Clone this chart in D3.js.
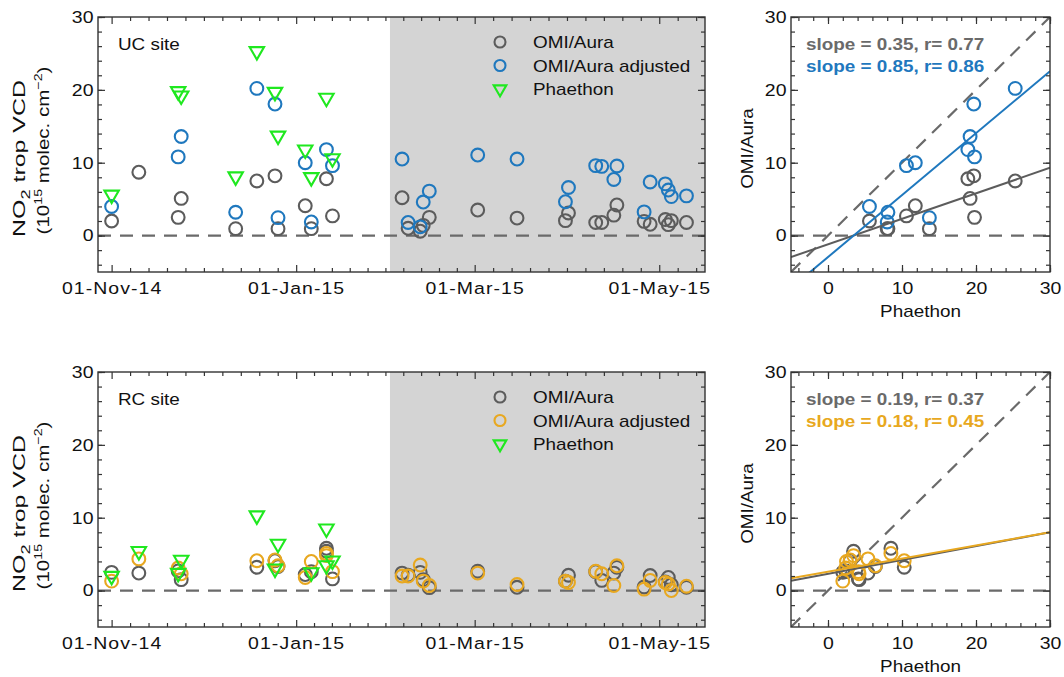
<!DOCTYPE html>
<html><head><meta charset="utf-8">
<script src="https://cdn.jsdelivr.net/npm/d3@7"></script>
<style>
body{margin:0;background:#fff}
svg{display:block}
text{font-family:"Liberation Sans",Arial,Helvetica,sans-serif}
</style>
</head><body>
<svg id="c" width="1064" height="677"></svg>
<script>
// ---------------- DATA ----------------
const ucDates = ["2014-11-01","2014-11-10","2014-11-23","2014-11-24","2014-12-12","2014-12-19","2014-12-25","2014-12-26","2015-01-04","2015-01-06","2015-01-11","2015-01-13",
  "2015-02-05","2015-02-07","2015-02-11","2015-02-12","2015-02-14","2015-03-02","2015-03-15","2015-03-31","2015-04-01","2015-04-10","2015-04-12","2015-04-16","2015-04-17","2015-04-26","2015-04-28","2015-05-03","2015-05-04","2015-05-05","2015-05-10"];
const ucOmi = [2.0, 8.7, 2.5, 5.1, 0.95, 7.5, 8.2, 0.95, 4.1, 0.95, 7.8, 2.7,
  5.2, 1.0, 0.6, 1.4, 2.5, 3.5, 2.4, 2.05, 3.1, 1.8, 1.8, 2.8, 4.2, 1.95, 1.55, 2.2, 1.5, 2.05, 1.8];
const ucAdj = [4.0, null, 10.8, 13.6, 3.2, 20.2, 18.05, 2.46, 10.0, 1.87, 11.8, 9.6,
  10.5, 1.8, 1.2, 4.6, 6.1, 11.05, 10.5, 4.65, 6.6, 9.6, 9.5, 7.7, 9.55, 3.25, 7.35, 7.1, 6.25, 5.35, 5.45];
const ucPha = [5.6, null, 19.8, 19.2, 8.1, 25.3, 19.7, 13.7, 11.8, 8.0, 18.9, 10.6,
  null, null, null, null, null, null, null, null, null, null, null, null, null, null, null, null, null, null, null];

const rcDates = ["2014-11-01","2014-11-10","2014-11-23","2014-11-24","2014-12-19","2014-12-25","2014-12-26","2015-01-04","2015-01-06","2015-01-11","2015-01-11","2015-01-13",
  "2015-02-05","2015-02-07","2015-02-11","2015-02-12","2015-02-14","2015-03-02","2015-03-15","2015-03-31","2015-04-01","2015-04-10","2015-04-12","2015-04-16","2015-04-17","2015-04-26","2015-04-28","2015-05-03","2015-05-04","2015-05-05","2015-05-10"];
const rcOmi = [2.5, 2.4, 2.7, 1.5, 3.2, 4.1, 3.3, 2.2, 2.6, 5.8, 5.4, 1.6,
  2.4, 2.1, 2.5, 1.5, 0.4, 2.65, 0.45, 1.3, 2.1, 2.6, 1.4, 2.4, 3.2, 0.5, 2.06, 1.2, 1.8, 0.8, 0.45];
const rcAdj = [1.3, 4.35, 3.1, 2.3, 4.1, 4.2, 3.4, 1.8, 4.0, 5.1, 4.8, 2.6,
  2.0, 2.0, 3.5, 1.3, 0.7, 2.4, 0.83, 1.3, 1.1, 2.66, 2.3, 0.7, 3.4, 0.2, 1.4, 1.1, 0.9, 0.0, 0.6];
const rcPha = [2.0, 5.4, 2.4, 4.2, 10.3, 3.0, 6.4, null, 2.5, 8.5, 3.45, 4.1,
  null, null, null, null, null, null, null, null, null, null, null, null, null, null, null, null, null, null, null];

// regression fits: [OMI/Aura, OMI/Aura adjusted]
const ucSlope = [0.35, 0.85], ucIntercept = [-1.2, -2.95], ucR = [0.77, 0.86];
const rcSlope = [0.19, 0.18], rcIntercept = [2.3, 2.6], rcR = [0.37, 0.45];

const siteNames = ["UC site", "RC site"];
const legendLabels = ["OMI/Aura", "OMI/Aura adjusted", "Phaethon"];
const dateTicks = ["2014-11-01", "2015-01-01", "2015-03-01", "2015-05-01"];
const shadeStart = "2015-02-01";
const yTicks = [0, 10, 20, 30];
const sxTicks = [0, 10, 20, 30];

// ---------------- STYLE / LAYOUT ----------------
const GRAY = "#5c5c5c", BLUE = "#1f78be", ORANGE = "#e8a820", GREEN = "#1fe81f";
const SX = 1.18;        // horizontal text stretch
const LX0 = 98, LX1 = 705, RX0 = 791, RX1 = 1050;
const panels = [{top: 17, bottom: 272}, {top: 372, bottom: 627}];
const parse = d3.timeParse("%Y-%m-%d");
const xDomain = [new Date(2014, 9, 27, 12), new Date(2015, 4, 16, 3)];
const svg = d3.select("#c");

function label(g, x, y, s, o = {}) {
  const t = g.append("text")
    .attr("transform", `translate(${x},${y}) scale(${SX},1)`)
    .attr("text-anchor", o.anchor || "start")
    .attr("font-size", o.size || 16)
    .attr("fill", o.fill || "#111")
    .attr("font-weight", o.weight || "normal")
    .text(s);
  return t;
}
function circ(g, x, y, color, r = 6.4) {
  g.append("circle").attr("cx", x).attr("cy", y).attr("r", r)
    .attr("fill", "none").attr("stroke", color).attr("stroke-width", 2.1);
}
const triPath = d3.symbol(d3.symbolTriangle, 90)();
function tri(g, x, y, size) {
  g.append("path").attr("d", size ? d3.symbol(d3.symbolTriangle, size)() : triPath)
    .attr("transform", `translate(${x},${y}) rotate(180)`)
    .attr("fill", "none").attr("stroke", GREEN).attr("stroke-width", 2.1);
}
function styleAxis(sel) {
  sel.select(".domain").remove();
  sel.selectAll("line").attr("stroke", "#333").attr("stroke-width", 1.2);
  sel.attr("font-family", null).attr("font-size", 16.5);
  sel.selectAll("text").attr("fill", "#111").attr("font-size", 16.5)
    .attr("font-family", '"Liberation Sans",Arial,sans-serif');
}
function stretchText(sel, spacing) {
  sel.selectAll("text").each(function () {
    const t = d3.select(this);
    t.attr("transform", `scale(${SX},1)`);
    const xv = +t.attr("x") || 0;
    t.attr("x", xv / SX);
    if (spacing) t.attr("letter-spacing", spacing);
  });
}
function yAxes(g, y, x0, x1, labels) {
  const minor = d3.range(-4, 31, 2);
  const a1 = g.append("g").attr("transform", `translate(${x0},0)`)
    .call(d3.axisLeft(y).tickValues(yTicks).tickSizeInner(-7).tickSizeOuter(0).tickPadding(4.5).tickFormat(labels ? d3.format("d") : ""));
  styleAxis(a1); stretchText(a1);
  const a2 = g.append("g").attr("transform", `translate(${x0},0)`)
    .call(d3.axisLeft(y).tickValues(minor).tickSizeInner(-4).tickSizeOuter(0).tickFormat(""));
  styleAxis(a2);
  const a3 = g.append("g").attr("transform", `translate(${x1},0)`)
    .call(d3.axisRight(y).tickValues(yTicks).tickSizeInner(-7).tickSizeOuter(0).tickFormat(""));
  styleAxis(a3);
  const a4 = g.append("g").attr("transform", `translate(${x1},0)`)
    .call(d3.axisRight(y).tickValues(minor).tickSizeInner(-4).tickSizeOuter(0).tickFormat(""));
  styleAxis(a4);
}
function xAxes(g, scale, major, minor, fmt, top, bottom, spacing) {
  const b1 = g.append("g").attr("transform", `translate(0,${bottom})`)
    .call(d3.axisBottom(scale).tickValues(major).tickSizeInner(-7).tickSizeOuter(0).tickPadding(10).tickFormat(fmt));
  styleAxis(b1); stretchText(b1, spacing);
  const b2 = g.append("g").attr("transform", `translate(0,${bottom})`)
    .call(d3.axisBottom(scale).tickValues(minor).tickSizeInner(-4).tickSizeOuter(0).tickFormat(""));
  styleAxis(b2);
  const t1 = g.append("g").attr("transform", `translate(0,${top})`)
    .call(d3.axisTop(scale).tickValues(major).tickSizeInner(-7).tickSizeOuter(0).tickFormat(""));
  styleAxis(t1);
  const t2 = g.append("g").attr("transform", `translate(0,${top})`)
    .call(d3.axisTop(scale).tickValues(minor).tickSizeInner(-4).tickSizeOuter(0).tickFormat(""));
  styleAxis(t2);
}
function rotTitle(g, x, yc, build, target) {
  const t = g.append("text").attr("text-anchor", "middle").attr("font-size", 16.5).attr("fill", "#111");
  build(t);
  const len = t.node().getComputedTextLength();
  const k = target / len;
  t.attr("transform", `translate(${x},${yc}) rotate(-90) scale(${k},1)`);
}

const sites = [
  {dates: ucDates, omi: ucOmi, adj: ucAdj, pha: ucPha, color: BLUE, slope: ucSlope, icpt: ucIntercept, r: ucR},
  {dates: rcDates, omi: rcOmi, adj: rcAdj, pha: rcPha, color: ORANGE, slope: rcSlope, icpt: rcIntercept, r: rcR}
];

sites.forEach((s, i) => {
  const {top, bottom} = panels[i];
  const g = svg.append("g");
  const x = d3.scaleTime().domain(xDomain).range([LX0, LX1]);
  const y = d3.scaleLinear().domain([-5, 30]).range([bottom, top]);
  const dts = s.dates.map(parse);

  // shaded period
  const sx0 = x(parse(shadeStart));
  g.append("rect").attr("x", sx0).attr("y", top).attr("width", LX1 - sx0).attr("height", bottom - top).attr("fill", "#d4d4d4");
  // zero line
  g.append("line").attr("x1", LX0).attr("x2", LX1).attr("y1", y(0)).attr("y2", y(0))
    .attr("stroke", "#6a6a6a").attr("stroke-width", 2.2).attr("stroke-dasharray", "13,9");

  dts.forEach((d, j) => { if (s.omi[j] != null) circ(g, x(d), y(s.omi[j]), GRAY); });
  dts.forEach((d, j) => { if (s.adj[j] != null) circ(g, x(d), y(s.adj[j]), s.color); });
  dts.forEach((d, j) => { if (s.pha[j] != null) tri(g, x(d), y(s.pha[j])); });

  // frame
  g.append("rect").attr("x", LX0).attr("y", top).attr("width", LX1 - LX0).attr("height", bottom - top)
    .attr("fill", "none").attr("stroke", "#333").attr("stroke-width", 1.4);

  // axes
  const majors = dateTicks.map(parse);
  const minors = [];
  for (let k = 0; k < majors.length - 1; k++) {
    const a = +majors[k], b = +majors[k + 1];
    for (let m = 1; m < 10; m++) minors.push(new Date(a + (b - a) * m / 10));
  }
  const step = (+majors[majors.length - 1] - +majors[majors.length - 2]) / 10;
  for (let t = +majors[majors.length - 1] + step; t < +xDomain[1]; t += step) minors.push(new Date(t));
  xAxes(g, x, majors, minors, d3.timeFormat("%d-%b-%y"), top, bottom, 0.9);
  yAxes(g, y, LX0, LX1, true);

  // site label
  label(g, 118, top + 33, siteNames[i]);

  // legend
  const lx = 500, tx = 533;
  const ly = [top + 25, top + 48.5, top + 72];
  circ(g, lx, ly[0], GRAY, 5.5);
  circ(g, lx, ly[1], s.color, 5.5);
  tri(g, lx, ly[2], 70);
  legendLabels.forEach((L, k) => label(g, tx, ly[k] + 6, L));

  // y title
  const yc = (top + bottom) / 2;
  rotTitle(g, 25, yc + 14, t => {
    t.append("tspan").text("NO");
    t.append("tspan").attr("dy", 5).attr("font-size", 12).text("2");
    t.append("tspan").attr("dy", -5).text(" trop VCD");
  }, 157);
  rotTitle(g, 48.5, yc + 6, t => {
    t.append("tspan").text("(10");
    t.append("tspan").attr("dy", -7).attr("font-size", 11.5).text("15");
    t.append("tspan").attr("dy", 7).text(" molec. cm");
    t.append("tspan").attr("dy", -7).attr("font-size", 11.5).text("−2");
    t.append("tspan").attr("dy", 7).text(")");
  }, 168);

  // ---------- scatter panel ----------
  const h = svg.append("g");
  const xs = d3.scaleLinear().domain([-5, 30]).range([RX0, RX1]);
  const clipId = "clip" + i;
  h.append("clipPath").attr("id", clipId).append("rect")
    .attr("x", RX0).attr("y", top).attr("width", RX1 - RX0).attr("height", bottom - top);
  const inner = h.append("g").attr("clip-path", `url(#${clipId})`);
  const dom = xs.domain();
  inner.append("line").attr("x1", xs(dom[0])).attr("x2", xs(dom[1])).attr("y1", y(0)).attr("y2", y(0))
    .attr("stroke", "#6a6a6a").attr("stroke-width", 2.2).attr("stroke-dasharray", "13,9");
  inner.append("path").attr("d", d3.line().x(v => xs(v)).y(v => y(v))(dom))
    .attr("stroke", "#6a6a6a").attr("stroke-width", 2.2).attr("stroke-dasharray", "13,9").attr("fill", "none");

  const pairsO = [], pairsA = [];
  s.pha.forEach((p, j) => {
    if (p == null) return;
    if (s.omi[j] != null) pairsO.push([p, s.omi[j]]);
    if (s.adj[j] != null) pairsA.push([p, s.adj[j]]);
  });
  pairsO.forEach(([p, o]) => circ(inner, xs(p), y(o), GRAY));
  pairsA.forEach(([p, o]) => circ(inner, xs(p), y(o), s.color));

  const fitColors = [GRAY, s.color];
  [0, 1].forEach(k => {
    inner.append("path")
      .attr("d", d3.line().x(v => xs(v)).y(v => y(s.slope[k] * v + s.icpt[k]))(dom))
      .attr("stroke", fitColors[k]).attr("stroke-width", 2).attr("fill", "none");
  });

  h.append("rect").attr("x", RX0).attr("y", top).attr("width", RX1 - RX0).attr("height", bottom - top)
    .attr("fill", "none").attr("stroke", "#333").attr("stroke-width", 1.4);
  xAxes(h, xs, sxTicks, d3.range(-4, 31, 2), d3.format("d"), top, bottom, 0);
  yAxes(h, y, RX0, RX1, true);

  const txtColors = ["#6a6a6a", s.color];
  [0, 1].forEach(k => {
    label(h, 806, top + 33 + k * 22,
      `slope = ${s.slope[k].toFixed(2)}, r= ${s.r[k].toFixed(2)}`,
      {fill: txtColors[k], weight: "bold"});
  });
  label(h, (RX0 + RX1) / 2, bottom + 45, "Phaethon", {anchor: "middle"});
  h.append("text").attr("text-anchor", "middle").attr("font-size", 16).attr("fill", "#111")
    .attr("transform", `translate(753,${yc + 4}) rotate(-90) scale(${SX},1)`).text("OMI/Aura");
});
</script>
</body></html>
